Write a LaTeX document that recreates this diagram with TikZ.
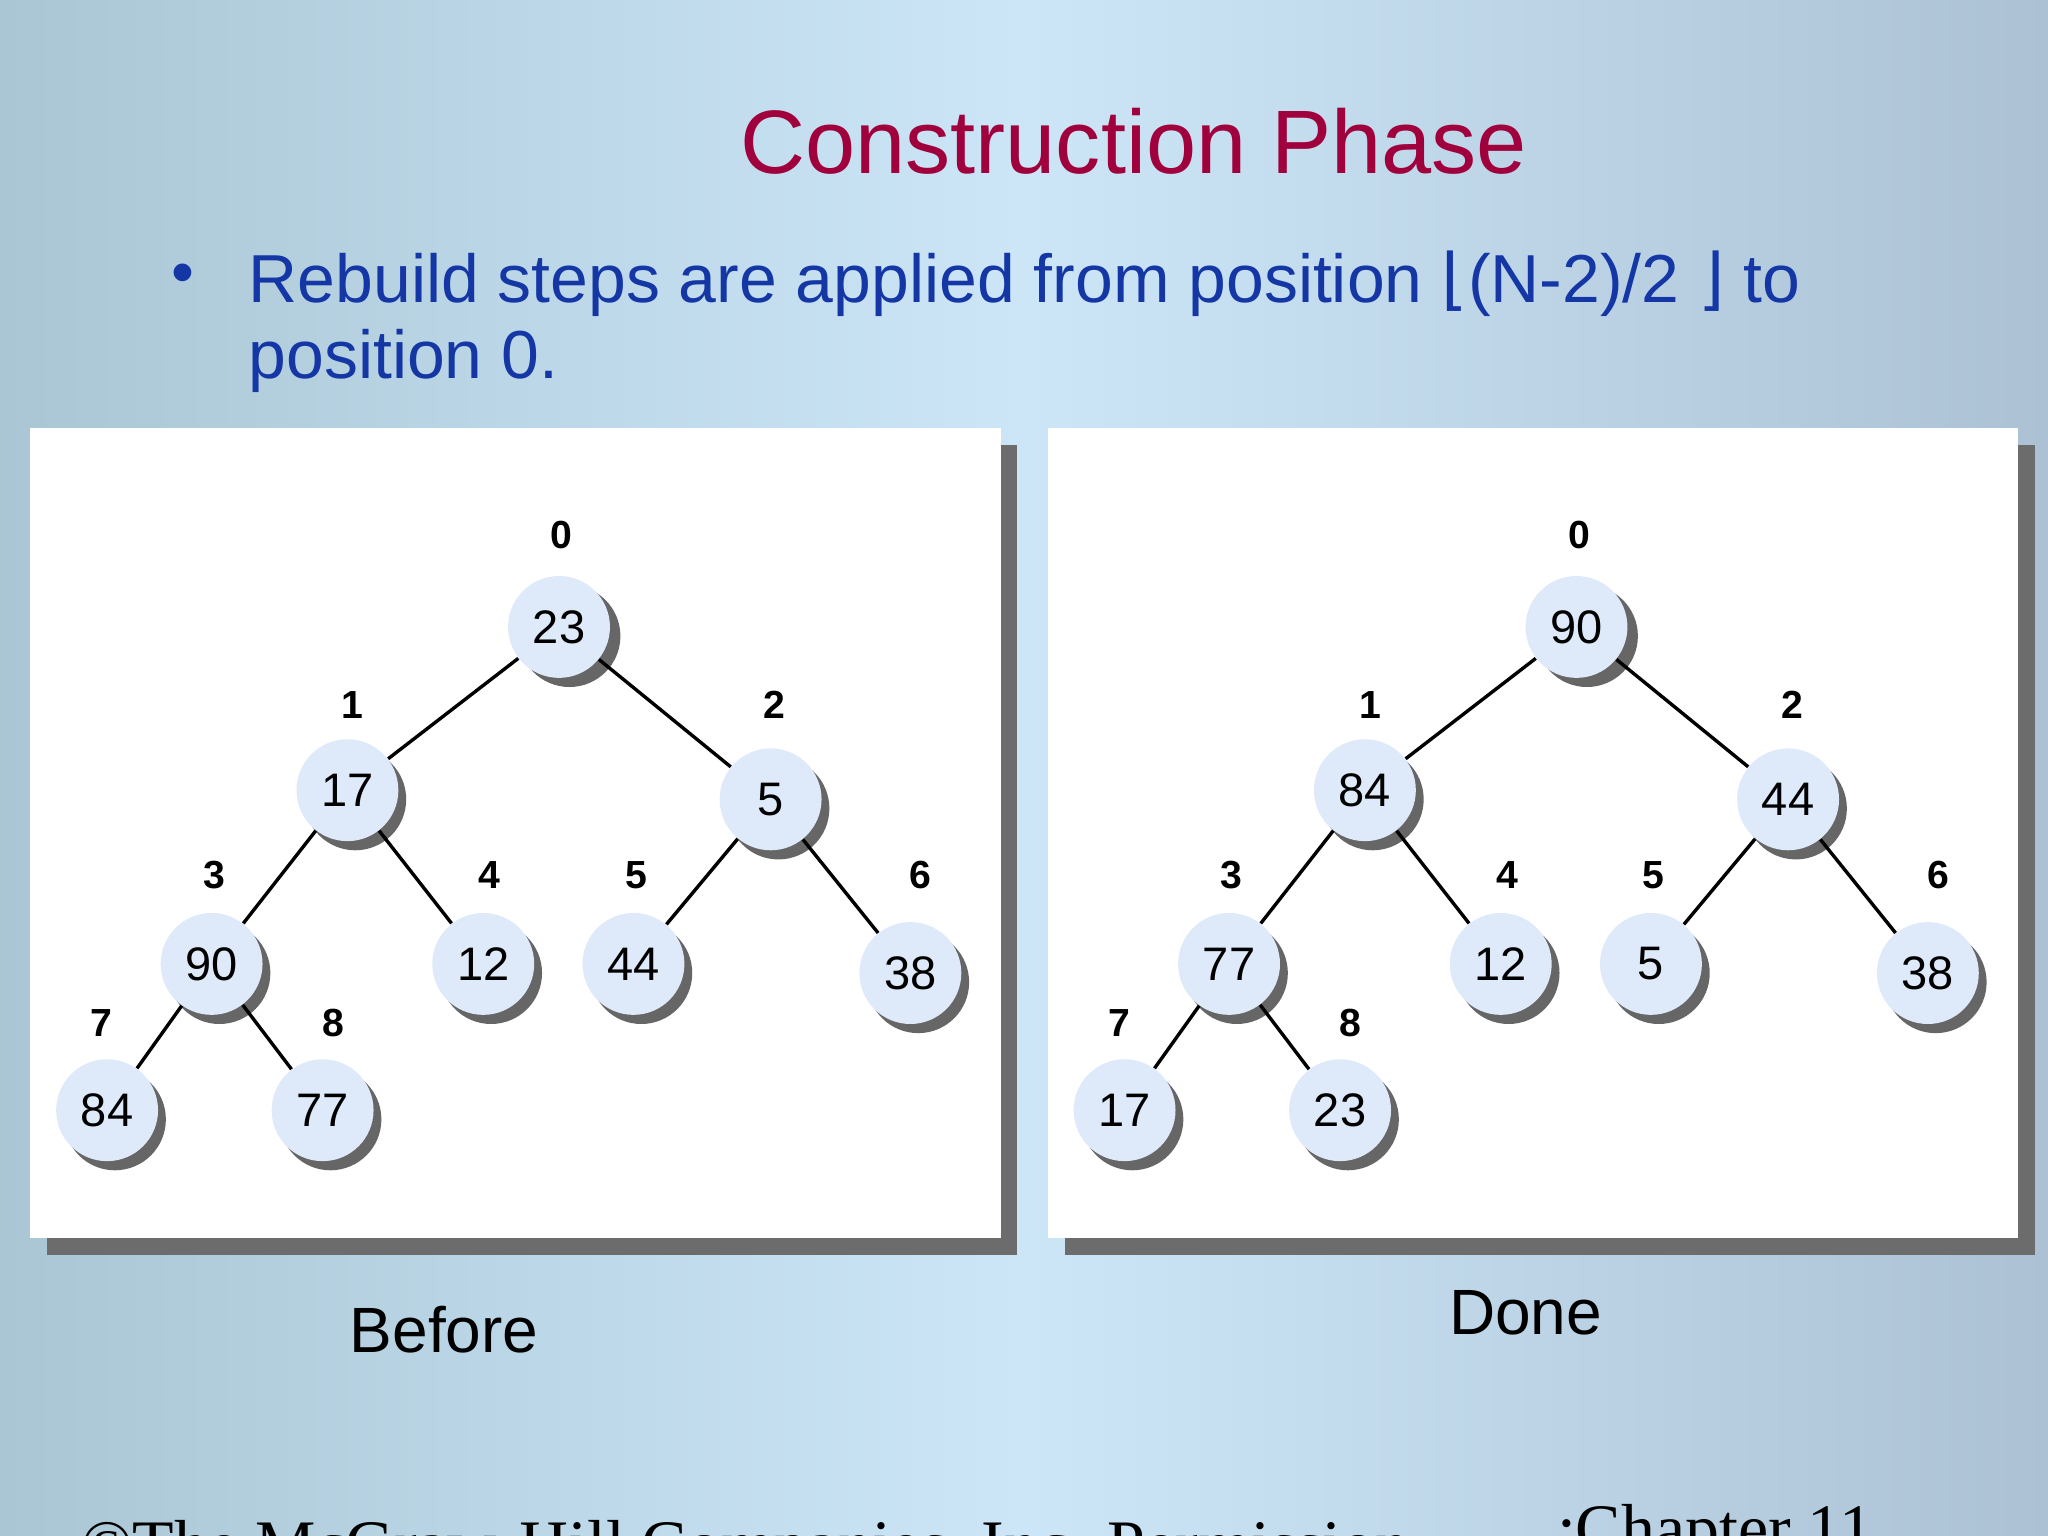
\documentclass[tikz,border=0pt]{standalone}
\usepackage{fontspec}
\setmainfont{Liberation Sans}
\newfontfamily\djv{DejaVu Sans}
\newfontfamily\tms{Liberation Serif}
\begin{document}
\begin{tikzpicture}[x=0.5pt,y=-0.5pt,
  hn/.style={circle,minimum size=39pt,inner sep=0pt,fill={rgb,255:red,222;green,234;blue,250},font=\fontsize{18}{18}\selectfont},
  idx/.style={font=\bfseries\fontsize{15}{15}\selectfont},
  edge/.style={line width=1.3pt}]
\clip (0,0) rectangle (1568,1176);
\shade[left color={rgb,255:red,170;green,198;blue,212},right color={rgb,255:red,204;green,230;blue,248}] (0,0) rectangle (784,1176);
\shade[left color={rgb,255:red,204;green,230;blue,248},right color={rgb,255:red,172;green,194;blue,212}] (784,0) rectangle (1568,1176);
\node[font=\fontsize{34.5}{34.5}\selectfont,text={rgb,255:red,160;green,0;blue,60}] (title) at (868,108) {Construction Phase};
\node[font=\fontsize{26}{29}\selectfont,text={rgb,255:red,20;green,55;blue,165},anchor=north west,align=left,inner sep=0pt] (bul) at (190,192)
 {Rebuild steps are applied from position {\djv⌊}(N-2)/2 {\djv⌋} to\\position 0.};
\node[font=\fontsize{25}{30}\selectfont,text={rgb,255:red,20;green,55;blue,165}] (dot) at (140,214) {•};
\foreach \ox/\nm in {0/L,779/R}{
  \begin{scope}[xshift=\ox*0.5pt]
  \fill[gray!85!black] (36,341) rectangle (779,961);
  \fill[white] (23,328) rectangle (766,948);
  \end{scope}}
\newcommand\tree[4]{%
 \begin{scope}[xshift=#1*0.5pt]
 \foreach \n/\x/\y/\ix/\lx/\ly in {a/430/480/0/430/410, b/266/605/1/270/540, c/590/612/2/593/540, d/162/738/3/164/670, e/370/738/4/375/670, f/485/738/5/487/670, g/697/745/6/705/670, h/82/850/7/78/783, i/247/850/8/255/783}{
   \fill[gray!80!black] (\x+6,\y+7) circle (39);
   \node[idx] (#2\n l) at (\lx,\ly) {\ix};
 }
 \foreach \n/\x/\y/\v in {#3}{\node[hn] (#2\n) at (\x,\y) {\v};}
 \draw[edge] (#2a)--(#2b) (#2a)--(#2c) (#2b)--(#2d) (#2b)--(#2e) (#2c)--(#2f) (#2c)--(#2g) (#2d)--(#2h) (#2d)--(#2i);
 \end{scope}}
\tree{0}{L}{a/428/480/23, b/266/605/17, c/590/612/5, d/162/738/90, e/370/738/12, f/485/738/44, g/697/745/38, h/82/850/84, i/247/850/77}{}
\tree{779}{R}{a/428/480/90, b/266/605/84, c/590/612/44, d/162/738/77, e/370/738/12, f/485/738/5, g/697/745/38, h/82/850/17, i/247/850/23}{}
\node[font=\fontsize{24.5}{24.5}\selectfont] (before) at (340,1018) {Before};
\node[font=\fontsize{24.5}{24.5}\selectfont] (done) at (1168,1005) {Done};
\node[font=\tms\fontsize{26}{26}\selectfont,anchor=base west] (copy) at (55,1200) {©The McGraw-Hill Companies, Inc. Permission};
\node[font=\tms\fontsize{26}{26}\selectfont,anchor=base west] (chap) at (1185,1188) {;Chapter 11};
\end{tikzpicture}
\end{document}
